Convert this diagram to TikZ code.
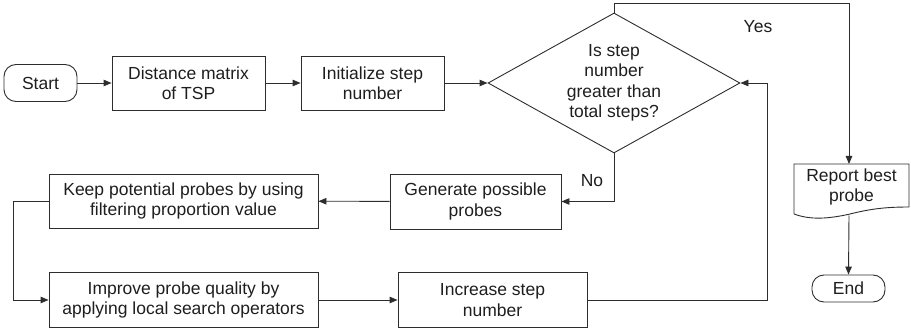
\documentclass[tikz,border=0pt]{standalone}
\usepackage{fontspec}
\setmainfont{Liberation Sans}
\usetikzlibrary{shapes.geometric,arrows.meta}
\definecolor{ln}{RGB}{45,45,45}
\definecolor{tx}{RGB}{30,30,30}
\begin{document}
\begin{tikzpicture}[x=1pt,y=-1pt,
  every node/.style={font=\fontsize{17.5}{20.5}\selectfont, text=tx, align=center, inner sep=0pt},
  box/.style={draw=ln, line width=0.9pt, rectangle, minimum height=54pt},
  term/.style={draw=ln, line width=0.9pt, rectangle, rounded corners=12pt},
  conn/.style={draw=ln, line width=0.9pt},
  arr/.style={conn, -{Triangle[length=8pt,width=6.5pt]}},
  lbl/.style={font=\fontsize{17.5}{20.5}\selectfont}
]
\useasboundingbox (0,0) rectangle (911,331);
% nodes
\node[term, minimum width=73pt, minimum height=37pt] (start) at (40.5,83) {Start};
\node[box, minimum width=153pt] (dist) at (188.5,83) {Distance matrix\\of TSP};
\node[box, minimum width=143pt] (init) at (372.5,83) {Initialize step\\number};
\node[draw=ln, line width=0.9pt, diamond, aspect=1.8, minimum width=252pt, minimum height=140pt] (dec) at (614,83) {Is step\\number\\greater than\\total steps?};
\node[box, minimum width=171pt, minimum height=55pt] (gen) at (475.5,201.5) {Generate possible\\probes};
\node[box, minimum width=269pt] (keep) at (183.5,201) {Keep potential probes by using\\filtering proportion value};
\node[box, minimum width=269pt, minimum height=55pt] (impr) at (183.5,300) {Improve probe quality by\\applying local search operators};
\node[box, minimum width=189pt, minimum height=55pt] (incr) at (492.5,300) {Increase step\\number};
\node[minimum width=115pt] (report) at (851.5,187) {Report best\\probe};
\node[term, minimum width=73pt, minimum height=27pt] (end) at (848.5,288.5) {End};
\node[lbl] (yes) at (758,27) {Yes};
\node[lbl] (no) at (592,181) {No};
% report document shape
\coordinate (rtl) at (794,164);
\coordinate (rtr) at (909,164);
\coordinate (rbr) at (909,207);
\coordinate (rbl) at (794,214);
\coordinate (reptop) at (849,164);
\coordinate (repbot) at (849,215.5);
\draw[conn] (rbl) -- (rtl) -- (rtr) -- (rbr)
  .. controls (885,207) and (870,209) .. (850,214)
  .. controls (828,219) and (810,220) .. (rbl);
% turning points
\coordinate (ytop) at (614,3);
\coordinate (yright) at (849,3);
\coordinate (kleft) at (13,201);
\coordinate (iright) at (767,300);
% connectors
\draw[arr] (start) -- (dist);
\draw[arr] (dist) -- (init);
\draw[arr] (init) -- (dec.west);
\draw[arr] (dec.north) -- (ytop) -- (yright) -- (reptop);
\draw[arr] (dec.south) |- (gen.east);
\draw[arr] (gen) -- (keep);
\draw[arr] (keep.west) -- (kleft) |- (impr.west);
\draw[arr] (impr) -- (incr);
\draw[arr] (incr.east) -- (iright) |- (dec.east);
\draw[arr] (repbot) -- (end.north);
\end{tikzpicture}
\end{document}
